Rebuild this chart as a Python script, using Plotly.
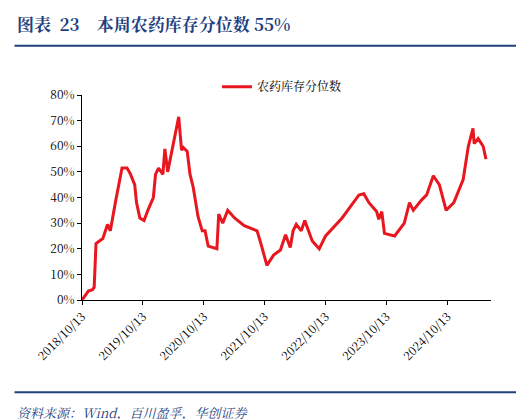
import plotly.graph_objects as go

dates = [
    "2018-10-13", "2018-11-20", "2018-12-15", "2018-12-25", "2019-01-05", "2019-02-15",
    "2019-03-15", "2019-04-01", "2019-05-01", "2019-06-10", "2019-07-10", "2019-07-28",
    "2019-08-25", "2019-09-05", "2019-09-25", "2019-10-20", "2019-11-15", "2019-12-15",
    "2019-12-28", "2020-01-15", "2020-02-10", "2020-02-22", "2020-03-10", "2020-04-08",
    "2020-05-15", "2020-06-01", "2020-06-12", "2020-07-05", "2020-07-22", "2020-08-10",
    "2020-09-08", "2020-10-03", "2020-10-20", "2020-11-08", "2020-12-30", "2021-01-10",
    "2021-02-03", "2021-03-05", "2021-04-15", "2021-06-12", "2021-08-28", "2021-09-20",
    "2021-10-20", "2021-10-26", "2021-12-05", "2022-01-15", "2022-02-15", "2022-03-15",
    "2022-04-01", "2022-04-20", "2022-05-20", "2022-06-10", "2022-07-25", "2022-09-05",
    "2022-10-13", "2023-01-20", "2023-05-01", "2023-05-30", "2023-06-30", "2023-08-15",
    "2023-08-28", "2023-09-15", "2023-10-01", "2023-12-01", "2024-01-28", "2024-02-28",
    "2024-03-22", "2024-05-10", "2024-06-10", "2024-07-20", "2024-08-25", "2024-10-05",
    "2024-11-20", "2025-01-15", "2025-02-15", "2025-03-15", "2025-03-22", "2025-04-15",
    "2025-05-15", "2025-06-01",
]
pct = [
    0.0, 3.5, 4.0, 5.0, 22.0, 24.0,
    29.5, 27.0, 38.0, 51.5, 51.5, 49.5,
    45.0, 38.0, 32.0, 31.0, 35.5, 40.0,
    49.0, 51.5, 49.0, 59.0, 50.0, 59.0,
    71.5, 58.5, 59.5, 58.0, 49.0, 44.0,
    32.5, 27.0, 27.0, 21.0, 20.0, 33.5,
    30.0, 35.0, 32.0, 29.0, 27.0, 22.0,
    14.0, 13.5, 17.5, 19.5, 25.5, 20.5,
    27.0, 29.5, 27.0, 31.0, 23.0, 20.0,
    25.0, 32.0, 41.0, 41.5, 38.0, 34.5,
    31.5, 34.5, 26.0, 25.0, 30.0, 38.0,
    35.0, 39.0, 41.0, 48.5, 45.0, 35.0,
    38.0, 47.0, 60.0, 67.0, 61.0, 63.0,
    60.0, 55.0,
]
tick_dates = ["2018-10-13", "2019-10-13", "2020-10-13", "2021-10-13",
              "2022-10-13", "2023-10-13", "2024-10-13"]
tick_text = [d.replace("-", "/") for d in tick_dates]
series_name = "农药库存分位数"
title = "图表  23    本周农药库存分位数 55%"
source = "资料来源：Wind，百川盈孚，华创证券"

navy = "#1F3F7F"
serif = "Noto Serif CJK SC, Liberation Serif, Noto Sans CJK SC, serif"

fig = go.Figure()
fig.add_trace(go.Scatter(x=dates, y=pct, mode="lines", name=series_name,
                         line=dict(color="#E8161E", width=3)))

fig.update_layout(
    width=524, height=419,
    margin=dict(l=74, r=41, t=87, b=127),
    paper_bgcolor="white", plot_bgcolor="white",
    font=dict(family=serif, size=12, color="black"),
    showlegend=True,
    legend=dict(x=0.33, y=1.04, xanchor="left", yanchor="middle",
                bgcolor="rgba(0,0,0,0)", font=dict(size=12)),
    xaxis=dict(range=["2018-10-13", "2025-07-01"], tickvals=tick_dates, ticktext=tick_text,
               tickangle=-45, showgrid=False, showline=True, linecolor="black",
               ticks="outside", ticklen=4, tickcolor="black", tickfont=dict(size=12),
               automargin=False),
    yaxis=dict(range=[0, 80], dtick=10, ticksuffix="%", showgrid=False, showline=True,
               linecolor="black", ticks="outside", ticklen=4, tickcolor="black",
               tickfont=dict(size=12), zeroline=False, automargin=False),
    shapes=[
        dict(type="line", xref="paper", yref="paper", x0=-0.165, x1=1.075,
             y0=1.24, y1=1.24, line=dict(color=navy, width=2)),
        dict(type="line", xref="paper", yref="paper", x0=-0.165, x1=1.075,
             y0=-0.45, y1=-0.45, line=dict(color=navy, width=2)),
    ],
    annotations=[
        dict(text="<b>" + title + "</b>", xref="paper", yref="paper", x=-0.165, y=1.35,
             xanchor="left", yanchor="middle", showarrow=False,
             font=dict(size=17, color=navy)),
        dict(text="<i>" + source + "</i>", xref="paper", yref="paper", x=-0.165, y=-0.55,
             xanchor="left", yanchor="middle", showarrow=False,
             font=dict(size=13, color=navy)),
    ],
)

fig.write_html("out.html")
